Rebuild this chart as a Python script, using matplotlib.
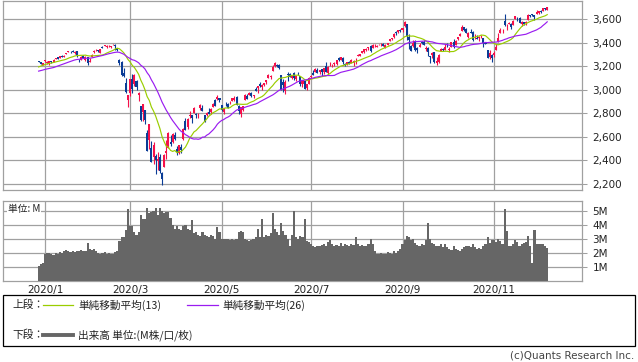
import matplotlib
matplotlib.use("Agg")
import matplotlib.pyplot as plt
import numpy as np
import pandas as pd
from matplotlib.lines import Line2D
from matplotlib.patches import Rectangle

plt.rcParams['font.family'] = ['DejaVu Sans']
JP = ['Noto Sans CJK JP', 'DejaVu Sans']

# ---------------- data ----------------
start_date = "2019-12-27"
end_date = "2020-12-08"
market_holidays = ["2020-01-01", "2020-01-20", "2020-02-17", "2020-04-10",
                   "2020-05-25", "2020-07-03", "2020-09-07", "2020-11-26"]

# closes before the visible window (used only to warm up the moving averages)
prior_closes = [3108.46, 3103.54, 3110.29, 3133.64, 3140.52, 3153.63, 3140.98, 3113.87,
                3093.20, 3112.76, 3117.43, 3145.91, 3135.96, 3132.52, 3141.63, 3168.57,
                3168.80, 3191.45, 3192.52, 3191.14, 3205.37, 3221.22, 3224.01, 3223.38,
                3239.91]

opens = [
    3247.23, 3240.09, 3215.18,
    3244.67, 3226.36, 3217.55, 3241.86, 3238.59, 3266.03, 3281.81, 3271.13, 3285.35, 3282.27,
    3302.97, 3323.66, 3321.03, 3330.02, 3315.77, 3333.10, 3247.16, 3255.35, 3289.46, 3256.45, 3282.33,
    3235.66, 3280.61, 3324.91, 3344.92, 3335.54, 3318.28, 3365.87, 3370.50, 3365.90, 3378.08,
    3369.04, 3380.39, 3380.45, 3360.50, 3257.61, 3238.94, 3139.90, 3062.54, 2916.90,
    2974.28, 3096.46, 3045.75, 3075.70, 2954.20, 2863.89, 2813.48, 2825.60, 2630.86, 2569.99,
    2508.59, 2425.66, 2436.50, 2393.48, 2431.94, 2290.71, 2344.44, 2457.77, 2501.29, 2555.87,
    2558.98, 2614.69,
    2498.08, 2458.54, 2514.92, 2578.28, 2738.65, 2685.00, 2776.99, 2782.46, 2805.10, 2795.64,
    2799.34, 2842.43, 2845.62, 2784.81, 2787.89, 2810.42, 2812.64, 2854.65, 2909.96, 2918.46, 2930.91,
    2869.09, 2815.01, 2868.88, 2883.14, 2878.26, 2908.83, 2915.46, 2939.50, 2865.86, 2794.54,
    2829.95, 2913.86, 2948.59, 2953.63, 2969.95, 2948.05, 3004.08, 3015.65, 3046.61, 3025.17,
    3038.78, 3064.78, 3098.90, 3111.56, 3163.84, 3199.92, 3213.32, 3213.42, 3123.53, 3071.04,
    2993.76, 3131.00, 3136.13, 3101.64, 3140.29, 3094.42, 3138.70, 3114.40, 3046.60, 3073.20,
    3018.59, 3050.20,
    3105.92, 3143.64, 3155.29, 3166.44, 3153.07, 3176.17, 3152.47, 3205.08, 3141.11, 3225.98,
    3208.36, 3224.21, 3224.29, 3268.52, 3254.86, 3271.64, 3218.58, 3219.84, 3234.27, 3227.22,
    3231.76, 3270.45,
    3288.26, 3289.92, 3317.37, 3323.17, 3340.05, 3356.04, 3370.34, 3355.46, 3372.95, 3368.66,
    3380.86, 3387.04, 3392.51, 3360.48, 3386.01, 3418.09, 3435.95, 3449.97, 3485.14, 3494.69, 3509.73,
    3507.44, 3543.76, 3564.74, 3453.60, 3371.88, 3369.82, 3412.56, 3352.70, 3363.56, 3407.73,
    3411.23, 3346.86, 3357.38, 3285.57, 3295.75, 3320.11, 3226.14, 3236.66, 3333.90, 3350.92, 3341.21,
    3385.87, 3338.94, 3367.27, 3408.74, 3384.56, 3434.28, 3459.67, 3500.02, 3534.01, 3515.47,
    3453.72, 3493.50, 3493.66, 3439.38, 3439.91, 3438.50, 3464.90, 3441.42, 3403.15, 3342.48,
    3277.17, 3293.59,
    3296.20, 3336.25, 3406.46, 3485.74, 3508.34, 3583.04, 3543.26, 3563.22, 3562.67, 3552.57,
    3600.16, 3610.31, 3612.09, 3559.41, 3579.31, 3566.82, 3594.52, 3635.50, 3638.55, 3634.18,
    3645.87, 3653.78, 3668.28, 3670.94, 3694.73, 3683.05,
]

highs = [
    3247.93, 3240.92, 3231.72,
    3258.14, 3246.15, 3246.84, 3244.91, 3267.07, 3275.58, 3282.99, 3288.13, 3294.25, 3298.66,
    3317.11, 3329.88, 3329.79, 3337.77, 3326.88, 3333.18, 3258.85, 3285.78, 3293.47, 3285.91, 3282.33,
    3268.44, 3306.92, 3337.58, 3347.96, 3341.42, 3352.26, 3375.63, 3381.47, 3385.09, 3380.69,
    3375.01, 3393.52, 3389.15, 3360.76, 3259.81, 3246.99, 3182.51, 3097.07, 2959.72,
    3090.96, 3136.72, 3130.97, 3083.04, 2985.93, 2863.89, 2882.59, 2825.60, 2660.95, 2711.33,
    2562.98, 2553.93, 2453.57, 2466.97, 2453.01, 2300.73, 2449.71, 2571.42, 2637.01, 2615.91,
    2631.80, 2641.39,
    2522.75, 2533.22, 2538.18, 2676.85, 2756.89, 2760.75, 2818.57, 2782.46, 2851.85, 2801.88,
    2806.51, 2879.22, 2868.98, 2785.54, 2815.10, 2844.90, 2842.71, 2887.72, 2921.15, 2954.86, 2930.91,
    2869.09, 2844.24, 2898.23, 2891.11, 2901.92, 2932.16, 2944.25, 2945.82, 2874.14, 2852.80,
    2865.01, 2968.09, 2964.21, 2980.29, 2978.50, 2956.76, 3021.72, 3036.25, 3068.67, 3049.17,
    3062.18, 3081.07, 3130.94, 3128.91, 3211.72, 3233.13, 3222.71, 3223.27, 3123.53, 3088.42,
    3079.76, 3153.45, 3141.16, 3120.00, 3155.53, 3120.92, 3154.90, 3115.01, 3086.25, 3073.73,
    3053.89, 3111.51,
    3128.44, 3165.81, 3182.59, 3184.15, 3171.80, 3179.78, 3186.82, 3235.32, 3200.95, 3238.28,
    3220.39, 3233.52, 3258.61, 3277.29, 3279.32, 3279.99, 3227.26, 3241.43, 3243.72, 3264.74,
    3250.92, 3272.17,
    3302.73, 3306.84, 3330.77, 3351.03, 3352.54, 3363.29, 3381.01, 3387.89, 3387.24, 3378.51,
    3387.59, 3395.06, 3399.54, 3390.80, 3399.96, 3432.09, 3444.21, 3481.07, 3501.38, 3509.23, 3514.77,
    3528.03, 3588.11, 3564.85, 3479.15, 3379.97, 3424.77, 3425.55, 3368.95, 3402.93, 3419.48,
    3428.92, 3375.17, 3362.27, 3285.57, 3320.31, 3323.35, 3278.70, 3306.88, 3360.74, 3357.92, 3393.56,
    3397.18, 3369.10, 3409.57, 3431.56, 3426.26, 3447.28, 3482.34, 3549.85, 3534.01, 3527.94,
    3489.08, 3515.76, 3502.42, 3476.93, 3464.86, 3460.53, 3466.46, 3441.42, 3409.51, 3342.48,
    3341.05, 3304.93,
    3330.14, 3389.49, 3486.25, 3529.05, 3521.58, 3645.99, 3557.22, 3581.16, 3569.02, 3593.66,
    3628.51, 3623.11, 3619.09, 3585.22, 3581.23, 3589.81, 3642.31, 3635.50, 3644.31, 3634.18,
    3678.45, 3670.96, 3682.73, 3699.20, 3697.41, 3708.45,
]

lows = [
    3234.37, 3216.57, 3212.03,
    3235.53, 3222.34, 3214.64, 3232.43, 3236.67, 3263.67, 3260.86, 3268.43, 3277.19, 3280.69,
    3302.82, 3318.86, 3316.61, 3320.04, 3301.87, 3281.53, 3234.50, 3253.22, 3271.89, 3242.80, 3214.68,
    3235.66, 3280.61, 3313.75, 3334.39, 3322.12, 3317.77, 3352.72, 3369.72, 3360.52, 3366.15,
    3355.61, 3378.83, 3341.02, 3328.45, 3214.65, 3118.77, 3108.99, 2977.39, 2855.84,
    2945.19, 2976.63, 3034.38, 2999.83, 2901.54, 2734.43, 2734.00, 2707.22, 2478.86, 2492.37,
    2380.94, 2367.04, 2280.52, 2319.78, 2295.56, 2191.86, 2344.44, 2407.53, 2500.72, 2520.02,
    2545.28, 2571.15,
    2447.49, 2455.79, 2459.96, 2574.57, 2657.67, 2663.30, 2762.36, 2721.17, 2805.10, 2761.54,
    2764.32, 2830.88, 2820.43, 2727.10, 2775.95, 2794.26, 2791.76, 2852.89, 2860.71, 2912.16, 2892.47,
    2821.61, 2797.85, 2863.55, 2847.65, 2876.48, 2902.88, 2903.44, 2869.59, 2793.15, 2766.64,
    2816.78, 2913.86, 2922.35, 2953.63, 2938.57, 2933.59, 2988.17, 2969.75, 3023.40, 2998.61,
    3031.54, 3051.64, 3098.90, 3090.41, 3163.84, 3196.00, 3193.11, 3181.49, 2999.49, 2984.47,
    2965.66, 3076.06, 3108.03, 3093.51, 3083.11, 3079.39, 3127.12, 3032.13, 3024.01, 3004.63,
    2999.74, 3047.83,
    3101.17, 3124.52, 3155.29, 3142.93, 3136.53, 3115.70, 3136.22, 3149.43, 3127.66, 3200.76,
    3198.59, 3205.65, 3215.16, 3247.77, 3253.10, 3222.66, 3200.05, 3214.25, 3216.17, 3227.22,
    3204.13, 3220.26,
    3284.53, 3286.37, 3317.37, 3318.14, 3328.72, 3335.44, 3326.44, 3355.46, 3363.35, 3361.64,
    3379.22, 3370.15, 3369.66, 3354.69, 3379.31, 3413.13, 3425.84, 3444.15, 3468.35, 3484.32, 3493.25,
    3494.60, 3535.23, 3427.41, 3349.63, 3329.27, 3366.84, 3329.25, 3310.47, 3363.56, 3389.25,
    3384.45, 3328.82, 3292.40, 3229.10, 3270.95, 3232.57, 3209.45, 3228.44, 3332.91, 3327.54, 3340.47,
    3361.39, 3323.69, 3367.27, 3354.54, 3384.56, 3428.15, 3458.07, 3499.61, 3500.86, 3480.55,
    3440.89, 3480.45, 3419.93, 3435.65, 3433.06, 3415.34, 3440.45, 3364.86, 3388.71, 3268.89,
    3259.82, 3233.94,
    3279.74, 3336.25, 3405.17, 3485.74, 3484.34, 3547.48, 3511.91, 3557.00, 3518.58, 3552.57,
    3600.16, 3588.68, 3567.33, 3543.84, 3556.85, 3552.77, 3594.52, 3617.76, 3629.33, 3594.39,
    3645.87, 3644.84, 3657.17, 3670.94, 3678.88, 3678.83,
]

closes = [
    3240.02, 3221.29, 3230.78,
    3257.85, 3234.85, 3246.28, 3237.18, 3253.05, 3274.70, 3265.35, 3288.13, 3283.15, 3289.29,
    3316.81, 3329.62, 3320.79, 3321.75, 3325.54, 3295.47, 3243.63, 3276.24, 3273.40, 3283.66, 3225.52,
    3248.92, 3297.59, 3334.69, 3345.78, 3327.71, 3352.09, 3357.75, 3379.45, 3373.94, 3380.16,
    3370.29, 3386.15, 3373.23, 3337.75, 3225.89, 3128.21, 3116.39, 2978.76, 2954.22,
    3090.23, 3003.37, 3130.12, 3023.94, 2972.37, 2746.56, 2882.23, 2741.38, 2480.64, 2711.02,
    2386.13, 2529.19, 2398.10, 2409.39, 2304.92, 2237.40, 2447.33, 2475.56, 2630.07, 2541.47,
    2626.65, 2584.59,
    2470.50, 2526.90, 2488.65, 2663.68, 2659.41, 2749.98, 2789.82, 2761.63, 2846.06, 2783.36,
    2799.55, 2874.56, 2823.16, 2736.56, 2799.31, 2797.80, 2836.74, 2878.48, 2863.39, 2939.51, 2912.43,
    2830.71, 2842.74, 2868.44, 2848.42, 2881.19, 2929.80, 2930.32, 2870.12, 2820.00, 2852.50,
    2863.70, 2953.91, 2922.94, 2971.61, 2948.51, 2955.45, 2991.77, 3036.13, 3029.73, 3044.31,
    3055.73, 3080.82, 3122.87, 3112.35, 3193.93, 3232.39, 3207.18, 3190.14, 3002.10, 3041.31,
    3066.59, 3124.74, 3113.49, 3115.34, 3097.74, 3117.86, 3131.29, 3050.33, 3083.76, 3009.05,
    3053.24, 3100.29,
    3115.86, 3130.01, 3179.72, 3145.32, 3169.94, 3152.05, 3185.04, 3155.22, 3197.52, 3226.56,
    3215.57, 3224.73, 3251.84, 3257.30, 3276.02, 3235.66, 3215.63, 3239.41, 3218.44, 3258.44,
    3246.22, 3271.12,
    3294.61, 3306.51, 3327.77, 3349.16, 3351.28, 3360.47, 3333.69, 3380.35, 3373.43, 3372.85,
    3381.99, 3389.78, 3374.85, 3385.51, 3397.16, 3431.28, 3443.62, 3478.73, 3484.55, 3508.01, 3500.31,
    3526.65, 3580.84, 3455.06, 3426.96, 3331.84, 3398.96, 3339.19, 3340.97, 3383.54, 3401.20,
    3385.49, 3357.01, 3319.47, 3281.06, 3315.57, 3236.92, 3246.59, 3298.46, 3351.60, 3335.47, 3363.00,
    3380.80, 3348.42, 3408.60, 3360.97, 3419.44, 3446.83, 3477.14, 3534.22, 3511.93, 3488.67,
    3483.34, 3483.81, 3426.92, 3443.12, 3435.56, 3453.49, 3465.39, 3400.97, 3390.68, 3271.03,
    3310.11, 3269.96,
    3310.24, 3369.16, 3443.44, 3510.45, 3509.44, 3550.50, 3545.53, 3572.66, 3537.01, 3585.15,
    3626.91, 3609.53, 3567.79, 3581.87, 3557.54, 3577.59, 3635.41, 3629.65, 3638.35, 3621.63,
    3662.45, 3669.01, 3666.72, 3699.12, 3691.96, 3702.25,
]

# volume (M)
volumes = [
    1.1, 1.2, 1.25,
    1.9, 2.0, 2.0, 1.95, 1.85, 2.0, 1.9, 2.05, 2.0, 2.1, 2.2, 2.15, 2.05, 2.1, 2.05, 2.15, 2.1,
    2.2, 2.1, 2.15, 2.7,
    2.3, 2.2, 2.3, 2.1, 2.0, 1.95, 2.0, 2.05, 1.95, 2.0, 1.95, 1.9, 2.05, 2.15, 2.85, 3.1, 3.15,
    3.6, 5.1,
    3.9, 3.9, 3.5, 3.3, 3.5, 4.7, 4.4, 4.4, 5.2, 4.8, 4.9, 5.0, 5.2, 4.7, 5.2, 5.0, 4.8, 4.9,
    4.9, 4.5, 4.0, 3.7,
    3.9, 3.7, 3.6, 3.9, 4.0, 3.7, 3.6, 4.3, 3.4, 3.5, 3.3, 3.2, 3.5, 3.3, 3.2, 3.1, 3.3, 3.2,
    3.0, 3.85, 3.5,
    3.0, 3.0, 2.95, 3.0, 2.9, 2.95, 2.9, 3.0, 3.5, 3.55, 3.5, 3.0, 2.9, 2.85, 2.9, 3.0, 3.1,
    3.7, 3.1, 4.4,
    3.1, 3.3, 3.2, 3.4, 4.8, 3.7, 3.5, 3.3, 4.1, 3.55, 3.3, 3.0, 2.5, 3.3, 5.0, 3.1, 3.0, 3.2,
    3.1, 4.4, 2.85, 2.75,
    2.6, 2.5, 2.4, 2.5, 2.45, 2.55, 2.6, 2.5, 2.75, 2.9, 2.6, 2.5, 2.55, 2.45, 2.7, 2.5, 2.6,
    2.55, 2.5, 2.6, 2.55, 3.1,
    2.6, 2.5, 2.55, 2.5, 2.45, 2.6, 3.0, 2.6, 2.1, 1.9, 1.95, 2.0, 1.9, 1.95, 2.05, 2.0, 1.95,
    2.1, 2.0, 2.1, 2.3,
    2.6, 2.9, 3.2, 3.1, 2.9, 3.0, 2.7, 2.55, 2.5, 2.6, 2.55, 2.9, 4.1, 3.0, 2.7, 2.6, 2.5, 2.45,
    2.6, 2.4, 2.6,
    2.4, 2.3, 2.2, 2.5, 2.3, 2.2, 2.1, 2.3, 2.4, 2.5, 2.45, 2.4, 2.6, 2.4, 2.3, 2.35, 2.3, 2.5,
    2.6, 3.1, 2.7, 2.9,
    2.9, 2.8, 3.0, 2.85, 2.6, 5.1, 3.55, 2.5, 2.5, 2.6, 2.9, 2.75, 2.5, 2.6, 2.7, 2.75, 3.2,
    2.5, 1.3, 3.6,
    2.6, 2.6, 2.6, 2.6, 2.5, 2.35,
]

label_months = [1, 3, 5, 7, 9, 11]
price_ticks = [2200, 2400, 2600, 2800, 3000, 3200, 3400, 3600]
volume_ticks = [1, 2, 3, 4, 5]
volume_tick_labels = ["1M", "2M", "3M", "4M", "5M"]

legend_upper = ["単純移動平均(13)", "単純移動平均(26)"]
legend_lower = "出来高 単位:(M株/口/枚)"

# ---------------- derived ----------------
dates = pd.bdate_range(start_date, end_date, freq="C", holidays=market_holidays)
n = len(closes)
assert len(dates) == n == len(opens) == len(highs) == len(lows) == len(volumes)
x = np.arange(n)
o = np.array(opens); h = np.array(highs); l = np.array(lows); c = np.array(closes)

full = pd.Series(prior_closes + closes)
ma13 = full.rolling(13).mean().to_numpy()[len(prior_closes):]
ma26 = full.rolling(26).mean().to_numpy()[len(prior_closes):]

tick_idx, tick_lab = [], []
for i in range(n):
    d = dates[i]
    if d.month in label_months and (i == 0 or dates[i - 1].month != d.month) and d.year == 2020:
        tick_idx.append(i)
        tick_lab.append(f"{d.year}/{d.month}")

# ---------------- styles ----------------
RED = "#f5104a"
BLUE = "#0a3c96"
GREEN = "#9acd00"
PURPLE = "#9a1cf0"
GRID = "#a0a0a0"
VOL = "#666666"

W, H = 638, 362
fig = plt.figure(figsize=(W / 100, H / 100), dpi=100)
fig.patch.set_facecolor("white")

def frac(x0, y0, x1, y1):
    return [x0 / W, 1 - y1 / H, (x1 - x0) / W, (y1 - y0) / H]

ax1 = fig.add_axes(frac(3, 0.5, 582, 190))
ax2 = fig.add_axes(frac(3, 201, 582, 281))

xlim = (-16.74, 255.35)

# price panel
up = c >= o
cols = np.where(up, RED, BLUE)
ax1.vlines(x, l, h, colors=cols, lw=0.8, zorder=3)
body_low = np.minimum(o, c)
body_h = np.maximum(np.abs(c - o), 5.0)
ax1.bar(x, body_h, bottom=body_low, width=0.95, color=cols, linewidth=0, zorder=3)
ax1.plot(x, ma13, color=GREEN, lw=0.85, zorder=4)
ax1.plot(x, ma26, color=PURPLE, lw=0.85, zorder=4)
ax1.set_xlim(*xlim)
ax1.set_ylim(2146.5, 3761.5)
ax1.set_yticks(price_ticks)
ax1.set_yticklabels([f"{v:,}" for v in price_ticks])
ax1.yaxis.tick_right()
ax1.set_xticks(tick_idx)
ax1.set_xticklabels([])
ax1.tick_params(axis="x", length=0)
ax1.tick_params(axis="y", length=3.5, width=0.75, color=GRID, labelsize=7.5, pad=4,
                labelcolor="#222222")
ax1.grid(True, color=GRID, lw=0.9, zorder=0)
ax1.set_axisbelow(True)

# volume panel
ax2.bar(x, volumes, width=1.0, color=VOL, linewidth=0, zorder=3)
ax2.set_xlim(*xlim)
ax2.set_ylim(0, 5.68)
ax2.set_yticks(volume_ticks)
ax2.set_yticklabels(volume_tick_labels)
ax2.yaxis.tick_right()
ax2.set_xticks(tick_idx)
ax2.set_xticklabels(tick_lab)
ax2.tick_params(axis="x", length=0, labelsize=7.5, pad=3, labelcolor="#222222")
ax2.tick_params(axis="y", length=3.5, width=0.75, color=GRID, labelsize=7.5, pad=4,
                labelcolor="#222222")
ax2.grid(True, color=GRID, lw=0.9, zorder=0)
ax2.set_axisbelow(True)

for ax in (ax1, ax2):
    for s in ax.spines.values():
        s.set_color(GRID)
        s.set_linewidth(0.9)

fig.text(8 / W, 1 - 209 / H, "単位: M", family=JP, fontsize=7, color="#222222",
         ha="left", va="center",
         bbox=dict(facecolor="white", edgecolor="none", pad=0.5), zorder=10)

# legend box
fig.add_artist(Rectangle((3 / W, 1 - 346 / H), 632 / W, 51 / H, transform=fig.transFigure,
                         fill=False, edgecolor="black", lw=0.9))
yU = 1 - 305 / H
yL = 1 - 335 / H
LFS = 7.7
fig.text(12 / W, yU, "上段：", family=JP, fontsize=LFS, color="#222222", va="center")
fig.add_artist(Line2D([43 / W, 73 / W], [yU, yU], transform=fig.transFigure, color=GREEN, lw=0.9))
fig.text(78 / W, yU, legend_upper[0], family=JP, fontsize=LFS, color="#222222", va="center")
fig.add_artist(Line2D([187 / W, 218 / W], [yU, yU], transform=fig.transFigure, color=PURPLE, lw=0.9))
fig.text(222 / W, yU, legend_upper[1], family=JP, fontsize=LFS, color="#222222", va="center")
fig.text(12 / W, yL, "下段：", family=JP, fontsize=LFS, color="#222222", va="center")
fig.add_artist(Line2D([43 / W, 73 / W], [yL, yL], transform=fig.transFigure, color=VOL, lw=2.8))
fig.text(78 / W, yL, legend_lower, family=JP, fontsize=LFS, color="#222222", va="center")

fig.text(634 / W, 1 - 356 / H, "(c)Quants Research Inc.", fontsize=7.5, color="#444444",
         ha="right", va="center")

fig.savefig("out.png", dpi=100, facecolor="white")
